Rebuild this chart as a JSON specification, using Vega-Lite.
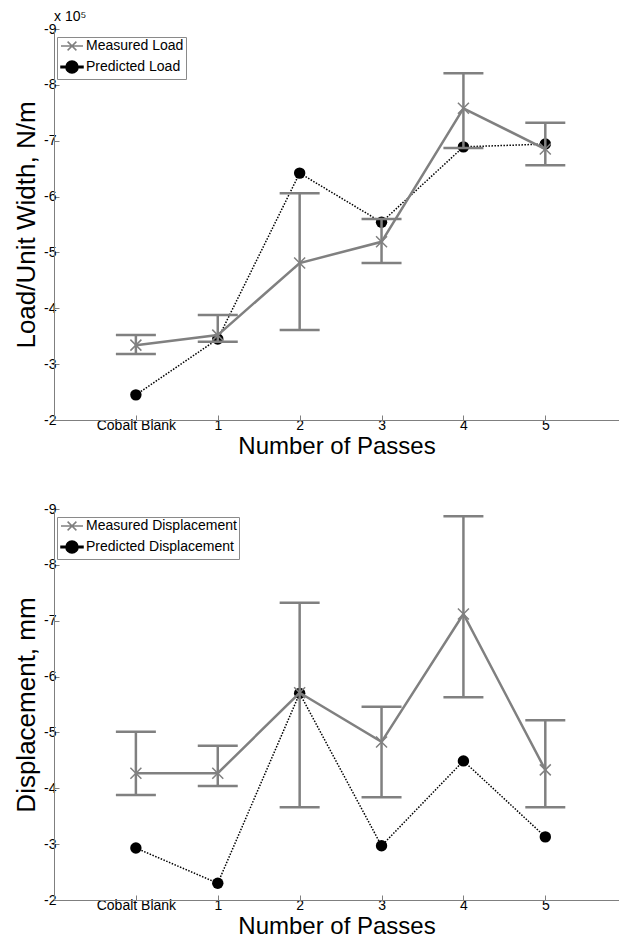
{
  "$schema": "https://vega.github.io/schema/vega-lite/v6.json",
  "padding": {"left": 13, "top": 10, "right": 0, "bottom": 0},
  "background": "white",
  "spacing": 44,
  "config": {
    "view": {"stroke": null},
    "font": "Liberation Sans",
    "axis": {
      "grid": false,
      "domainColor": "#7f7f7f",
      "domainWidth": 1,
      "tickColor": "#7f7f7f",
      "tickSize": -5,
      "labelColor": "black",
      "labelFont": "Liberation Sans",
      "labelFontSize": 14,
      "titleFont": "Liberation Sans",
      "titleFontWeight": "normal",
      "titleColor": "black"
    },
    "legend": {
      "title": null,
      "orient": "none",
      "legendX": 3,
      "legendY": 8,
      "strokeColor": "#8a8a8a",
      "fillColor": "white",
      "padding": 2,
      "labelFont": "Liberation Sans",
      "labelFontSize": 14,
      "labelColor": "black",
      "symbolSize": 121,
      "symbolOffset": 6,
      "labelOffset": 7,
      "rowPadding": 3,
      "symbolType": "stroke"
    }
  },
  "resolve": {"scale": {"color": "independent"}, "legend": {"color": "independent"}},
  "datasets": {
    "load": [
      {"pass": 0, "series": "Measured Load", "kind": "M", "value": -3.34, "lo": -3.18, "hi": -3.52},
      {"pass": 1, "series": "Measured Load", "kind": "M", "value": -3.52, "lo": -3.40, "hi": -3.88},
      {"pass": 2, "series": "Measured Load", "kind": "M", "value": -4.81, "lo": -3.61, "hi": -6.06},
      {"pass": 3, "series": "Measured Load", "kind": "M", "value": -5.19, "lo": -4.81, "hi": -5.60},
      {"pass": 4, "series": "Measured Load", "kind": "M", "value": -7.58, "lo": -6.87, "hi": -8.21},
      {"pass": 5, "series": "Measured Load", "kind": "M", "value": -6.85, "lo": -6.56, "hi": -7.32},
      {"pass": 0, "series": "Predicted Load", "kind": "P", "value": -2.45},
      {"pass": 1, "series": "Predicted Load", "kind": "P", "value": -3.45},
      {"pass": 2, "series": "Predicted Load", "kind": "P", "value": -6.42},
      {"pass": 3, "series": "Predicted Load", "kind": "P", "value": -5.54},
      {"pass": 4, "series": "Predicted Load", "kind": "P", "value": -6.89},
      {"pass": 5, "series": "Predicted Load", "kind": "P", "value": -6.94}
    ],
    "disp": [
      {"pass": 0, "series": "Measured Displacement", "kind": "M", "value": -4.27, "lo": -3.88, "hi": -5.01},
      {"pass": 1, "series": "Measured Displacement", "kind": "M", "value": -4.27, "lo": -4.04, "hi": -4.76},
      {"pass": 2, "series": "Measured Displacement", "kind": "M", "value": -5.71, "lo": -3.66, "hi": -7.32},
      {"pass": 3, "series": "Measured Displacement", "kind": "M", "value": -4.83, "lo": -3.84, "hi": -5.46},
      {"pass": 4, "series": "Measured Displacement", "kind": "M", "value": -7.12, "lo": -5.63, "hi": -8.87},
      {"pass": 5, "series": "Measured Displacement", "kind": "M", "value": -4.33, "lo": -3.66, "hi": -5.22},
      {"pass": 0, "series": "Predicted Displacement", "kind": "P", "value": -2.93},
      {"pass": 1, "series": "Predicted Displacement", "kind": "P", "value": -2.30},
      {"pass": 2, "series": "Predicted Displacement", "kind": "P", "value": -5.70},
      {"pass": 3, "series": "Predicted Displacement", "kind": "P", "value": -2.97},
      {"pass": 4, "series": "Predicted Displacement", "kind": "P", "value": -4.49},
      {"pass": 5, "series": "Predicted Displacement", "kind": "P", "value": -3.13}
    ]
  },
  "vconcat": [
    {
      "width": 565,
      "height": 391,
      "title": {"text": "x 10⁵", "anchor": "start", "frame": "group", "fontSize": 14, "fontWeight": "normal", "font": "Liberation Sans", "color": "black", "offset": -2},
      "data": {"name": "load"},
      "encoding": {
        "x": {"field": "pass", "type": "quantitative", "scale": {"domain": [-1, 5.9], "nice": false, "zero": false},
              "axis": {"values": [0, 1, 2, 3, 4, 5], "labelExpr": "datum.value == 0 ? 'Cobalt Blank' : datum.label", "title": "Number of Passes", "titleFontSize": 24, "labelPadding": 3, "titlePadding": 2}},
        "y": {"field": "value", "type": "quantitative", "scale": {"domain": [-9, -2], "reverse": true, "nice": false, "zero": false},
              "axis": {"values": [-9, -8, -7, -6, -5, -4, -3, -2], "labelExpr": "'-' + (-datum.value)", "title": "Load/Unit Width, N/m", "titleFontSize": 26, "labelPadding": 3, "titlePadding": 4}}
      },
      "layer": [
        {"transform": [{"filter": "datum.kind == 'P'"}], "mark": {"type": "line", "strokeDash": [1.5, 1.5], "strokeWidth": 1.5},
         "encoding": {"color": {"field": "series", "type": "nominal", "scale": {"domain": ["Measured Load", "Predicted Load"], "range": ["#808080", "black"]},
           "legend": {"encode": {"symbols": {"update": {
             "shape": {"signal": "datum.value == 'Measured Load' ? 'M-2,0L2,0M-0.8,-0.8L0.8,0.8M-0.8,0.8L0.8,-0.8' : 'M-1.1,0A1.1,1.1 0 1,0 1.1,0A1.1,1.1 0 1,0 -1.1,0Z M-2,-0.12L-1.75,-0.12L-1.75,0.12L-2,0.12Z M-1.55,-0.12L-1.3,-0.12L-1.3,0.12L-1.55,0.12Z M1.3,-0.12L1.55,-0.12L1.55,0.12L1.3,0.12Z M1.75,-0.12L2,-0.12L2,0.12L1.75,0.12Z'"},
             "fill": {"signal": "datum.value == 'Measured Load' ? 'transparent' : 'black'"},
             "stroke": {"signal": "datum.value == 'Measured Load' ? '#808080' : 'transparent'"},
             "strokeWidth": {"value": 1.5},
             "strokeDash": {"value": []},
             "opacity": {"value": 1}
           }}}}}}},
        {"transform": [{"filter": "datum.kind == 'P'"}], "mark": {"type": "point", "shape": "circle", "filled": true, "color": "black", "opacity": 1, "size": 130}},
        {"transform": [{"filter": "datum.kind == 'M'"}], "mark": {"type": "rule", "color": "#808080", "strokeWidth": 2.5},
         "encoding": {"y": {"field": "lo", "type": "quantitative"}, "y2": {"field": "hi"}}},
        {"transform": [{"filter": "datum.kind == 'M'"}], "mark": {"type": "tick", "orient": "horizontal", "color": "#808080", "size": 40, "thickness": 2.5, "opacity": 1},
         "encoding": {"y": {"field": "lo", "type": "quantitative"}}},
        {"transform": [{"filter": "datum.kind == 'M'"}], "mark": {"type": "tick", "orient": "horizontal", "color": "#808080", "size": 40, "thickness": 2.5, "opacity": 1},
         "encoding": {"y": {"field": "hi", "type": "quantitative"}}},
        {"transform": [{"filter": "datum.kind == 'M'"}], "mark": {"type": "line", "strokeWidth": 2.5},
         "encoding": {"color": {"field": "series", "type": "nominal"}}},
        {"transform": [{"filter": "datum.kind == 'M'"}], "mark": {"type": "point", "shape": "M-1,-1L1,1M-1,1L1,-1", "filled": false, "color": "#808080", "strokeWidth": 1.5, "opacity": 1, "size": 121}}
      ]
    },
    {
      "width": 565,
      "height": 391,
      "data": {"name": "disp"},
      "encoding": {
        "x": {"field": "pass", "type": "quantitative", "scale": {"domain": [-1, 5.9], "nice": false, "zero": false},
              "axis": {"values": [0, 1, 2, 3, 4, 5], "labelExpr": "datum.value == 0 ? 'Cobalt Blank' : datum.label", "title": "Number of Passes", "titleFontSize": 24, "labelPadding": 3, "titlePadding": 2}},
        "y": {"field": "value", "type": "quantitative", "scale": {"domain": [-9, -2], "reverse": true, "nice": false, "zero": false},
              "axis": {"values": [-9, -8, -7, -6, -5, -4, -3, -2], "labelExpr": "'-' + (-datum.value)", "title": "Displacement, mm", "titleFontSize": 26, "labelPadding": 3, "titlePadding": 4}}
      },
      "layer": [
        {"transform": [{"filter": "datum.kind == 'P'"}], "mark": {"type": "line", "strokeDash": [1.5, 1.5], "strokeWidth": 1.5},
         "encoding": {"color": {"field": "series", "type": "nominal", "scale": {"domain": ["Measured Displacement", "Predicted Displacement"], "range": ["#808080", "black"]},
           "legend": {"encode": {"symbols": {"update": {
             "shape": {"signal": "datum.value == 'Measured Displacement' ? 'M-2,0L2,0M-0.8,-0.8L0.8,0.8M-0.8,0.8L0.8,-0.8' : 'M-1.1,0A1.1,1.1 0 1,0 1.1,0A1.1,1.1 0 1,0 -1.1,0Z M-2,-0.12L-1.75,-0.12L-1.75,0.12L-2,0.12Z M-1.55,-0.12L-1.3,-0.12L-1.3,0.12L-1.55,0.12Z M1.3,-0.12L1.55,-0.12L1.55,0.12L1.3,0.12Z M1.75,-0.12L2,-0.12L2,0.12L1.75,0.12Z'"},
             "fill": {"signal": "datum.value == 'Measured Displacement' ? 'transparent' : 'black'"},
             "stroke": {"signal": "datum.value == 'Measured Displacement' ? '#808080' : 'transparent'"},
             "strokeWidth": {"value": 1.5},
             "strokeDash": {"value": []},
             "opacity": {"value": 1}
           }}}}}}},
        {"transform": [{"filter": "datum.kind == 'P'"}], "mark": {"type": "point", "shape": "circle", "filled": true, "color": "black", "opacity": 1, "size": 130}},
        {"transform": [{"filter": "datum.kind == 'M'"}], "mark": {"type": "rule", "color": "#808080", "strokeWidth": 2.5},
         "encoding": {"y": {"field": "lo", "type": "quantitative"}, "y2": {"field": "hi"}}},
        {"transform": [{"filter": "datum.kind == 'M'"}], "mark": {"type": "tick", "orient": "horizontal", "color": "#808080", "size": 40, "thickness": 2.5, "opacity": 1},
         "encoding": {"y": {"field": "lo", "type": "quantitative"}}},
        {"transform": [{"filter": "datum.kind == 'M'"}], "mark": {"type": "tick", "orient": "horizontal", "color": "#808080", "size": 40, "thickness": 2.5, "opacity": 1},
         "encoding": {"y": {"field": "hi", "type": "quantitative"}}},
        {"transform": [{"filter": "datum.kind == 'M'"}], "mark": {"type": "line", "strokeWidth": 2.5},
         "encoding": {"color": {"field": "series", "type": "nominal"}}},
        {"transform": [{"filter": "datum.kind == 'M'"}], "mark": {"type": "point", "shape": "M-1,-1L1,1M-1,1L1,-1", "filled": false, "color": "#808080", "strokeWidth": 1.5, "opacity": 1, "size": 121}}
      ]
    }
  ]
}
